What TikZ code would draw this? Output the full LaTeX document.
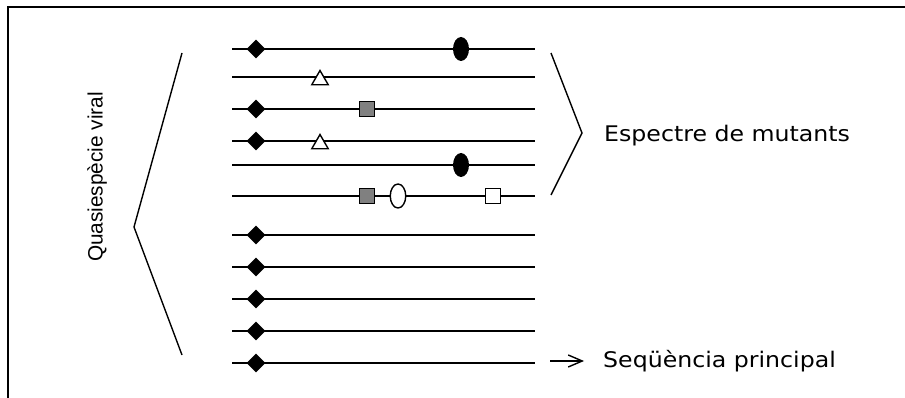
\documentclass[tikz,border=0pt]{standalone}
\usepackage{fontspec}
\setmainfont[FakeStretch=1.1]{DejaVu Sans}
\newfontfamily\arialfont{Liberation Sans}
\usetikzlibrary{shapes.geometric,arrows.meta}
\begin{document}
\begin{tikzpicture}[x=1pt,y=-1pt,
  seqline/.style={line width=1.8pt},
  brack/.style={line width=1.4pt},
  frameline/.style={line width=1.8pt},
  dia/.style={diamond,fill=black,inner sep=0pt,minimum width=19pt,minimum height=19pt},
  bell/.style={ellipse,fill=black,inner sep=0pt,minimum width=16pt,minimum height=24pt},
  wtri/.style={regular polygon,regular polygon sides=3,draw=black,fill=white,line width=1.4pt,inner sep=0pt,minimum size=19pt},
  gsq/.style={rectangle,draw=black,fill=gray,line width=1.4pt,inner sep=0pt,minimum size=14.5pt},
  wsq/.style={rectangle,draw=black,fill=white,line width=1.4pt,inner sep=0pt,minimum size=14.5pt},
  wel/.style={ellipse,draw=black,fill=white,line width=1.4pt,inner sep=0pt,minimum width=15.5pt,minimum height=24pt},
  lbl/.style={inner sep=0pt,font=\fontsize{21.5}{25}\selectfont}
]
\useasboundingbox (0,0) rectangle (905,398);
% frame
\draw[frameline] (8,398) -- (8,7) -- (905,7);
% sequence lines
\foreach \i/\y in {1/49,2/77,3/109,4/141,5/165,6/196,7/235,8/267,9/299,10/331,11/363}{
  \coordinate (s\i) at (232,\y);
  \coordinate (e\i) at (535,\y);
  \draw[seqline] (s\i) -- (e\i);
}
% markers
\node[dia] (d1) at (256,49) {};
\node[bell] (b1) at (461,49) {};
\node[wtri] (t2) at (320,80) {};
\node[dia] (d3) at (256,109) {};
\node[gsq] (g3) at (367,109) {};
\node[dia] (d4) at (256,141) {};
\node[wtri] (t4) at (320,144) {};
\node[bell] (b5) at (461,165) {};
\node[gsq] (g6) at (367,196) {};
\node[wel] (o6) at (398,196) {};
\node[wsq] (w6) at (493,196) {};
\foreach \i/\y in {7/235,8/267,9/299,10/331,11/363}{
  \node[dia] (d\i) at (256,\y) {};
}
% brackets
\coordinate (lt) at (182,53);
\coordinate (la) at (134,227);
\coordinate (lb) at (182,355);
\draw[brack] (lt) -- (la) -- (lb);
\coordinate (rt) at (551,53);
\coordinate (ra) at (582,133);
\coordinate (rb) at (551,195);
\draw[brack] (rt) -- (ra) -- (rb);
% labels
\node[lbl,anchor=west] (esp) at (604,135.5) {Espectre de mutants};
\node[lbl,anchor=west] (seq) at (603,361.5) {Seqüència principal};
\node[inner sep=0pt,rotate=90,font=\arialfont\fontsize{20.8}{24}\selectfont] (qv) at (97,177) {Quasiespècie viral};
% arrow
\coordinate (a0) at (550,361);
\coordinate (a1) at (584,361);
\draw[line width=1.4pt,-{Straight Barb[length=14pt,width=12pt,line width=1.4pt]}] (a0) -- (a1);
\end{tikzpicture}
\end{document}
